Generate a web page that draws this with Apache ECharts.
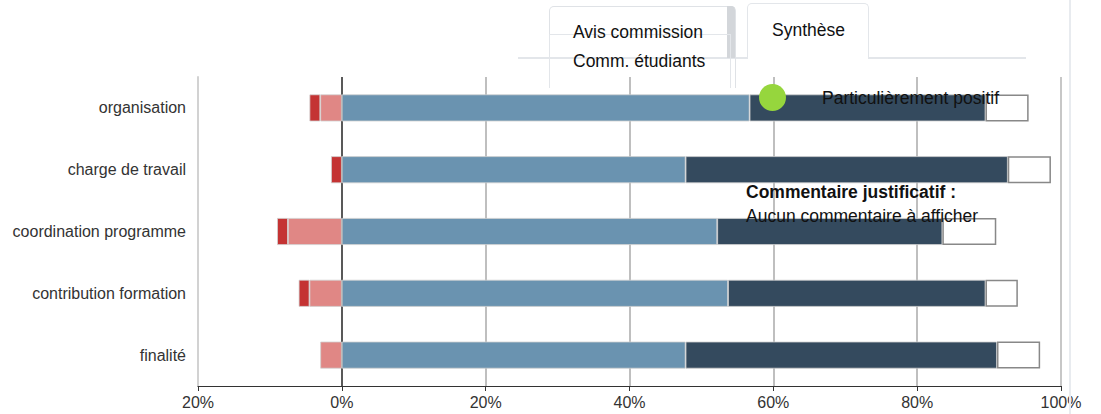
<!DOCTYPE html>
<html>
<head>
<meta charset="utf-8">
<script src="https://cdn.jsdelivr.net/npm/echarts@6/dist/echarts.min.js"></script>
<style>
  html, body { margin: 0; padding: 0; background: #fff; }
  #wrap { position: relative; width: 1101px; height: 414px; overflow: hidden; font-family: "Liberation Sans", Arial, Helvetica, sans-serif; }
  #chart { position: absolute; left: 0; top: 0; width: 1101px; height: 414px; }
  .ov { position: absolute; box-sizing: border-box; }
  .txt { position: absolute; white-space: nowrap; font-size: 17.5px; color: #111; line-height: 20px; }
</style>
</head>
<body>
<div id="wrap">
  <div id="chart"></div>
  <!-- page overlay elements -->
  <div class="ov" style="left:1069px;top:0;width:2px;height:414px;background:#e8ebef;"></div>
  <div class="ov" style="left:518px;top:57px;width:508px;height:2px;background:#e3e6ea;"></div>
  <div class="ov" style="left:549px;top:6px;width:187px;height:82px;border:1.5px solid #dfe2e6;border-bottom:none;border-radius:5px 5px 0 0;"></div>
  <div class="ov" style="left:727px;top:6px;width:8px;height:52px;background:#d3d6da;border-radius:0 4px 0 0;"></div>
  <div class="ov" style="left:549px;top:34px;width:182px;height:54px;border:1.5px solid #e3e6ea;border-bottom:none;"></div>
  <div class="ov" style="left:747px;top:3px;width:122px;height:56px;border:1.5px solid #e3e6ea;border-bottom:none;border-radius:5px 5px 0 0;background:#fff;"></div>
  <div class="txt" style="left:573px;top:22px;">Avis commission</div>
  <div class="txt" style="left:772px;top:20px;">Synthèse</div>
  <div class="txt" style="left:573px;top:51px;">Comm. étudiants</div>
  <div class="ov" style="left:759px;top:84px;width:27px;height:27px;border-radius:50%;background:#96d63d;"></div>
  <div class="txt" style="left:822px;top:88px;">Particulièrement positif</div>
  <div class="txt" style="left:746px;top:182px;font-weight:bold;">Commentaire justificatif :</div>
  <div class="txt" style="left:746px;top:206px;">Aucun commentaire à afficher</div>
</div>
<script>
// Data (percent of respondents)
const categories = ['organisation', 'charge de travail', 'coordination programme', 'contribution formation', 'finalité'];
const tresNegatif = [1.5, 1.5, 1.5, 1.5, 0];       // dark red (left of 0)
const negatif = [3.0, 0, 7.5, 4.5, 3.0];           // light red (left of 0)
const positif = [56.7, 47.8, 52.2, 53.7, 47.8];    // light blue
const tresPositif = [32.8, 44.8, 31.3, 35.8, 43.3];// dark blue
const sansAvis = [6.0, 6.0, 7.5, 4.5, 6.0];        // white
const xTicks = [-20, 0, 20, 40, 60, 80, 100];

const neg = arr => arr.map(v => v === 0 ? '-' : -v);
const pos = arr => arr.map(v => v === 0 ? '-' : v);

const chart = echarts.init(document.getElementById('chart'), null, { renderer: 'svg' });
const font = '"Liberation Sans", Arial, Helvetica, sans-serif';
const barW = 27;
function bar(name, data, color, border, bw) {
  return {
    name, type: 'bar', stack: 'total', barWidth: barW, data,
    itemStyle: { color, borderColor: border, borderWidth: bw },
    emphasis: { disabled: true }, silent: true
  };
}
chart.setOption({
  animation: false,
  textStyle: { fontFamily: font },
  grid: { left: 198, right: 40, top: 77, bottom: 28, containLabel: false },
  xAxis: {
    type: 'value', min: xTicks[0], max: xTicks[xTicks.length - 1], interval: 20,
    axisLine: { show: true, lineStyle: { color: '#333', width: 1 } },
    axisTick: { show: true, length: 5, lineStyle: { color: '#333' } },
    axisLabel: { formatter: v => Math.abs(v) + '%', color: '#333', fontSize: 16, margin: 8, fontFamily: font },
    splitLine: { show: true, lineStyle: { color: ['#d2d2d2', '#222', '#aaa', '#aaa', '#aaa', '#aaa', '#b5b5b5'], width: 1.5 } }
  },
  yAxis: {
    type: 'category', data: categories, inverse: true,
    axisLine: { show: true, onZero: false, lineStyle: { color: '#d2d2d2', width: 2 } },
    axisTick: { show: false },
    axisLabel: { color: '#333', fontSize: 16, margin: 12, fontFamily: font }
  },
  series: [
    bar('Négatif', neg(negatif), '#e08785', '#d0d0d0', 0.8),
    bar('Très négatif', neg(tresNegatif), '#c43333', '#d0d0d0', 0.8),
    bar('Positif', pos(positif), '#6a93b0', '#d0d0d0', 0.8),
    bar('Très positif', pos(tresPositif), '#344a5e', '#d0d0d0', 0.8),
    bar('Sans avis', pos(sansAvis), '#ffffff', '#888888', 1.5)
  ]
});
</script>
</body>
</html>
